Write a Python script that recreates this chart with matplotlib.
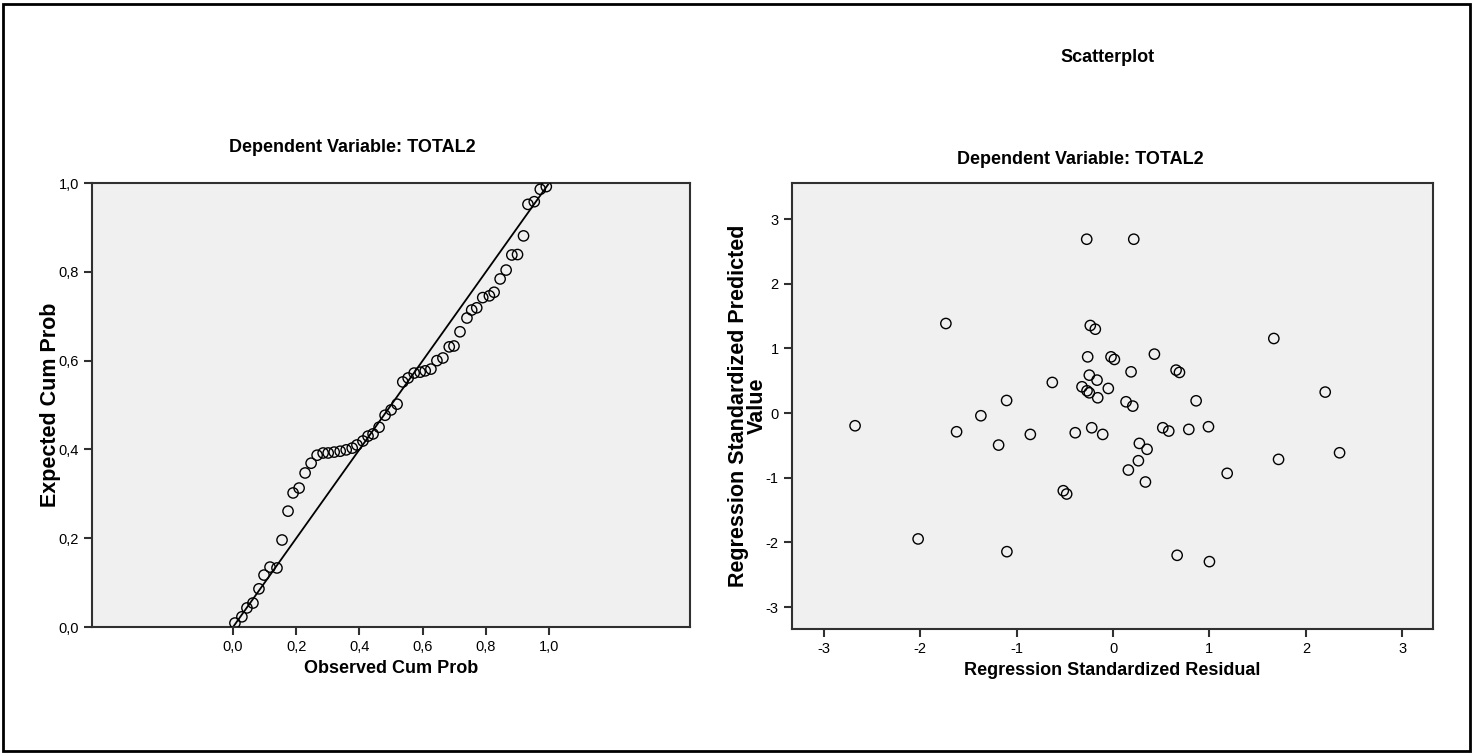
import matplotlib
matplotlib.use("Agg")
import matplotlib.pyplot as plt
from matplotlib.patches import Rectangle

plt.rcParams["axes.unicode_minus"] = False

# P-P plot: observed vs expected cumulative probability
obs_cum = [0.006, 0.028, 0.044, 0.063, 0.082, 0.098, 0.117, 0.139, 0.155, 0.174,
           0.190, 0.209, 0.228, 0.247, 0.266, 0.285, 0.301, 0.320, 0.339, 0.358,
           0.377, 0.392, 0.411, 0.427, 0.443, 0.462, 0.481, 0.500, 0.519, 0.537,
           0.554, 0.573, 0.592, 0.608, 0.626, 0.645, 0.664, 0.684, 0.699, 0.718,
           0.740, 0.755, 0.771, 0.790, 0.811, 0.826, 0.845, 0.864, 0.882, 0.900,
           0.919, 0.933, 0.953, 0.972, 0.991]
exp_cum = [0.009, 0.023, 0.043, 0.054, 0.086, 0.117, 0.135, 0.133, 0.196, 0.261,
           0.302, 0.313, 0.347, 0.369, 0.387, 0.392, 0.392, 0.394, 0.396, 0.399,
           0.403, 0.410, 0.419, 0.430, 0.435, 0.450, 0.477, 0.489, 0.502, 0.552,
           0.561, 0.572, 0.574, 0.577, 0.581, 0.600, 0.606, 0.631, 0.633, 0.665,
           0.696, 0.714, 0.719, 0.742, 0.746, 0.754, 0.784, 0.804, 0.838, 0.839,
           0.881, 0.952, 0.958, 0.986, 0.992]

# scatterplot: standardized residual vs standardized predicted value
std_resid = [-0.273, 0.215, -1.734, -0.236, -0.184, -0.263, -0.021, 0.014, -0.246, -0.166,
             -0.322, -0.270, -0.246, -0.159, -0.049, -0.630, -1.104, -1.371, -2.676, 0.187,
             0.135, 0.205, 0.429, 0.654, 0.689, 0.862, 1.668, 2.201, 0.516, 0.578,
             0.786, 0.990, -0.107, 0.273, 0.353, 0.263, 0.159, 0.336, 1.184, 1.717,
             2.350, 0.665, 1.000, -1.623, -0.858, -0.392, -0.221, -1.187, -0.516, -0.481,
             -2.022, -1.101]
std_pred = [2.69, 2.69, 1.386, 1.355, 1.298, 0.870, 0.870, 0.830, 0.587, 0.510,
            0.407, 0.345, 0.314, 0.237, 0.381, 0.474, 0.195, -0.041, -0.196, 0.638,
            0.175, 0.108, 0.912, 0.665, 0.629, 0.190, 1.154, 0.325, -0.227, -0.278,
            -0.252, -0.211, -0.330, -0.469, -0.560, -0.737, -0.881, -1.066, -0.932, -0.716,
            -0.614, -2.200, -2.298, -0.289, -0.330, -0.304, -0.227, -0.495, -1.201, -1.252,
            -1.947, -2.144]

pp_ticks = [0.0, 0.2, 0.4, 0.6, 0.8, 1.0]
pp_labels = ["0,0", "0,2", "0,4", "0,6", "0,8", "1,0"]
sc_ticks = [-3, -2, -1, 0, 1, 2, 3]

font = ["Liberation Sans", "DejaVu Sans"]
bg = "#f0f0f0"
edge = "#303030"

fig = plt.figure(figsize=(14.73, 7.53), dpi=100)
fig.patch.set_facecolor("white")

# outer frame round the whole output
fig.patches.append(Rectangle((0.002, 0.003), 0.996, 0.992, transform=fig.transFigure,
                             fill=False, edgecolor="black", linewidth=2))


def style_axes(ax):
    ax.set_facecolor(bg)
    for s in ax.spines.values():
        s.set_color(edge)
        s.set_linewidth(1.5)
    ax.tick_params(direction="out", length=6, width=1.5, color=edge, labelsize=10.5)
    for lab in ax.get_xticklabels() + ax.get_yticklabels():
        lab.set_family(font)


# left: normal P-P plot
ax1 = fig.add_axes([0.0625, 0.1673, 0.406, 0.5896])
ax1.plot([0, 1], [0, 1], color="black", linewidth=1.3, zorder=2)
ax1.scatter(obs_cum, exp_cum, s=55, facecolors="none", edgecolors="black",
            linewidths=1.0, zorder=3)
ax1.set_xlim(-0.446, 1.446)
ax1.set_ylim(0, 1)
ax1.set_xticks(pp_ticks)
ax1.set_xticklabels(pp_labels)
ax1.set_yticks(pp_ticks)
ax1.set_yticklabels(pp_labels)
style_axes(ax1)
ax1.set_xlabel("Observed Cum Prob", family=font, fontsize=13, fontweight="bold", labelpad=4)
ax1.set_ylabel("Expected Cum Prob", family=font, fontsize=15.5, fontweight="bold")
ax1.yaxis.set_label_coords(-0.052, 0.5)

# right: residual scatterplot
ax2 = fig.add_axes([0.5377, 0.1647, 0.4352, 0.5923])
ax2.scatter(std_resid, std_pred, s=55, facecolors="none", edgecolors="black",
            linewidths=1.0, zorder=3)
ax2.set_xlim(-3.33, 3.32)
ax2.set_ylim(-3.34, 3.56)
ax2.set_xticks(sc_ticks)
ax2.set_yticks(sc_ticks)
style_axes(ax2)
ax2.set_xlabel("Regression Standardized Residual", family=font, fontsize=13,
               fontweight="bold", labelpad=4)
ax2.set_ylabel("Regression Standardized Predicted\nValue", family=font, fontsize=15.5,
               fontweight="bold", linespacing=0.85)
ax2.yaxis.set_label_coords(-0.038, 0.5)

# titles
fig.text(0.239, 1 - 147 / 753, "Dependent Variable: TOTAL2", family=font,
         fontsize=13, fontweight="bold", ha="center", va="center")
fig.text(0.7335, 1 - 160 / 753, "Dependent Variable: TOTAL2", family=font,
         fontsize=13, fontweight="bold", ha="center", va="center")
fig.text(0.752, 1 - 57 / 753, "Scatterplot", family=font,
         fontsize=13, fontweight="bold", ha="center", va="center")

fig.savefig("out.png", dpi=100)
